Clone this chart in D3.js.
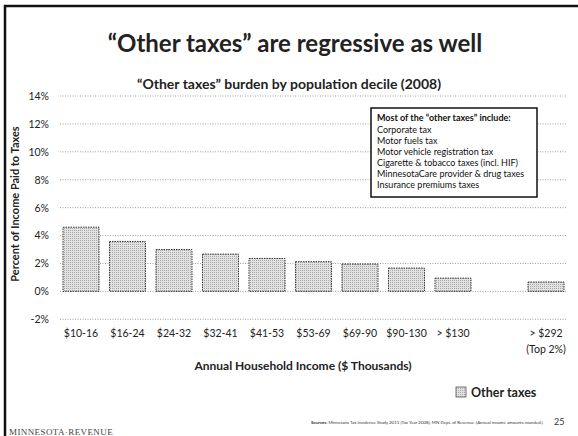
<!DOCTYPE html>
<html><head><meta charset="utf-8">
<script src="https://cdn.jsdelivr.net/npm/d3@7"></script>
<style>body{margin:0;background:#fff}svg{display:block}</style>
</head><body>
<svg id="c" width="578" height="436"></svg>
<script>
const categories = ["$10-16","$16-24","$24-32","$32-41","$41-53","$53-69","$69-90","$90-130","> $130","","> $292"];
const values = [4.6,3.58,3.0,2.67,2.36,2.13,1.96,1.67,0.95,null,0.67];
const yTicks = [-2,0,2,4,6,8,10,12,14];
const boxLines = ["Corporate tax","Motor fuels tax","Motor vehicle registration tax","Cigarette & tobacco taxes (incl. HIF)","MinnesotaCare provider & drug taxes","Insurance premiums taxes"];

const svg = d3.select("#c");
const F = "Lato, 'Open Sans', sans-serif";

// frame
svg.append("path").attr("d","M5,440 V6 H580").attr("fill","none").attr("stroke","#111").attr("stroke-width",2.5);

svg.append("text").attr("x",295).attr("y",52).attr("text-anchor","middle")
  .attr("font-family",F).attr("font-weight","bold").attr("font-size",24).attr("fill","#222")
  .text("\u201cOther taxes\u201d are regressive as well");
svg.append("text").attr("x",289).attr("y",89).attr("text-anchor","middle")
  .attr("font-family",F).attr("font-weight","bold").attr("font-size",14).attr("fill","#222")
  .text("\u201cOther taxes\u201d burden by population decile (2008)");

const x = d3.scaleBand().domain(categories).range([57.75,569.25]).paddingInner(0.226).paddingOuter(0.113);
const y = d3.scaleLinear().domain([-2,14]).range([319.3,96]);

// gridlines
svg.append("g").selectAll("line").data(yTicks).join("line")
  .attr("x1",60).attr("x2",567).attr("y1",d=>y(d)).attr("y2",d=>y(d))
  .attr("stroke","#888").attr("stroke-width",0.8).attr("stroke-dasharray","1,1.5");

// y axis labels
const yAxis = d3.axisLeft(y).tickValues(yTicks).tickFormat(d=>d+"%").tickSize(0).tickPadding(0);
const ga = svg.append("g").attr("transform","translate(49,0)").call(yAxis);
ga.select(".domain").remove();
ga.selectAll("text").attr("font-family",F).attr("font-size",10.5).attr("fill","#222");

// pattern for bars
const defs = svg.append("defs");
const pat = defs.append("pattern").attr("id","dots").attr("width",2).attr("height",2).attr("patternUnits","userSpaceOnUse");
pat.append("rect").attr("width",2).attr("height",2).attr("fill","#e2e2e2");
pat.append("rect").attr("width",1).attr("height",1).attr("fill","#a8a8a8");

const data = categories.map((c,i)=>({c,v:values[i]})).filter(d=>d.v!=null);
svg.append("g").selectAll("rect").data(data).join("rect")
  .attr("x",d=>x(d.c)).attr("width",x.bandwidth())
  .attr("y",d=>y(Math.max(0,d.v))).attr("height",d=>Math.abs(y(d.v)-y(0)))
  .attr("fill","url(#dots)").attr("stroke","#333").attr("stroke-width",1).attr("stroke-dasharray","1.5,1");

// x labels
const xAxis = d3.axisBottom(x).tickSize(0).tickPadding(0);
const gx = svg.append("g").attr("transform","translate(0,330)").call(xAxis);
gx.select(".domain").remove();
gx.selectAll("text").attr("font-family",F).attr("font-size",10.5).attr("fill","#222").attr("dy","0.71em");
svg.append("text").attr("x",x("> $292")+x.bandwidth()/2).attr("y",353).attr("text-anchor","middle")
  .attr("font-family",F).attr("font-size",10.5).attr("fill","#222").text("(Top 2%)");

svg.append("text").attr("x",303).attr("y",370).attr("text-anchor","middle")
  .attr("font-family",F).attr("font-weight","bold").attr("font-size",12).attr("fill","#222")
  .text("Annual Household Income ($ Thousands)");

svg.append("text").attr("transform","translate(19,204) rotate(-90)").attr("text-anchor","middle")
  .attr("font-family",F).attr("font-weight","bold").attr("font-size",11).attr("fill","#222")
  .text("Percent of Income Paid to Taxes");

// info box
svg.append("rect").attr("x",371).attr("y",108).attr("width",166).attr("height",89)
  .attr("fill","#fff").attr("stroke","#111").attr("stroke-width",1.5);
svg.append("text").attr("x",377).attr("y",121).attr("font-family",F).attr("font-weight","bold")
  .attr("font-size",9).attr("fill","#111").text("Most of the \u201cother taxes\u201d include:");
svg.append("g").selectAll("text").data(boxLines).join("text")
  .attr("x",377).attr("y",(d,i)=>132.5+i*11).attr("font-family",F).attr("font-size",9).attr("fill","#111").text(d=>d);

// legend
svg.append("rect").attr("x",456).attr("y",387).attr("width",10).attr("height",10)
  .attr("fill","url(#dots)").attr("stroke","#555").attr("stroke-width",0.8);
svg.append("text").attr("x",471).attr("y",396.5).attr("font-family",F).attr("font-weight","bold")
  .attr("font-size",12.5).attr("fill","#222").text("Other taxes");

// sources
const st = svg.append("text").attr("x",543).attr("y",424).attr("text-anchor","end")
  .attr("font-family",F).attr("font-size",4.4).attr("fill","#333");
st.append("tspan").attr("font-weight","bold").text("Sources:  ");
st.append("tspan").text("Minnesota Tax Incidence Study 2011 (Tax Year 2008), MN Dept. of Revenue. (Annual income amounts rounded.)");
svg.append("text").attr("x",554).attr("y",425).attr("font-family",F).attr("font-size",9).attr("fill","#333").text("25");

svg.append("text").attr("x",9).attr("y",435).attr("font-family","'Liberation Serif', serif")
  .attr("font-size",9).attr("letter-spacing",0.4).attr("fill","#444").text("MINNESOTA\u00b7REVENUE");
</script>
</body></html>
